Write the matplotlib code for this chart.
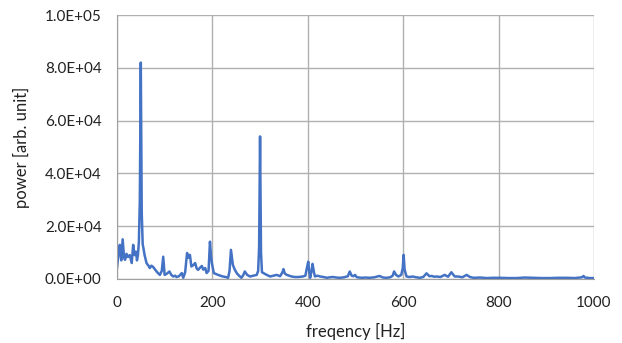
import matplotlib
matplotlib.use("Agg")
import matplotlib.pyplot as plt
from matplotlib.ticker import FuncFormatter

# spectrum
freq = [0, 3, 6, 9, 12, 15, 17, 20, 23, 27, 31, 34, 37, 40, 42, 44, 46, 48, 50, 52, 54,
        55, 58, 62, 66, 69, 72, 76, 80, 83, 87, 90, 94, 97, 100, 105, 110, 114, 118, 122,
        125, 130, 136, 139, 143, 147, 150, 153, 156, 160, 164, 167, 170, 174, 178, 181,
        185, 188, 192, 195, 197, 199, 203, 208, 212, 217, 222, 228, 233, 236, 239, 241,
        243, 247, 251, 256, 261, 265, 268, 273, 279, 286, 293, 296, 298, 300, 302, 304,
        307, 314, 321, 328, 335, 342, 347, 349, 352, 356, 361, 366, 373, 380, 385, 390,
        395, 398, 401, 403, 405, 408, 410, 413, 415, 420, 426, 433, 440, 447, 453, 460,
        468, 476, 484, 488, 492, 496, 499, 503, 513, 521, 530, 540, 550, 558, 565, 573,
        578, 581, 585, 590, 596, 599, 601, 603, 607, 613, 620, 627, 635, 642, 649, 655,
        660, 665, 670, 678, 687, 694, 701, 708, 715, 724, 733, 740, 747, 761, 775, 789,
        803, 820, 838, 855, 872, 890, 908, 925, 943, 960, 975, 978, 981, 992, 1000]
power = [4000, 9000, 12900, 7000, 15000, 8000, 7200, 9500, 8300, 9000, 6000, 12900, 9000,
         10300, 7000, 9000, 14000, 30000, 82000, 25000, 13000,
         12200, 9000, 6000, 5000, 4100, 5000, 4500, 3500, 2800, 2000, 1500, 3000, 8400,
         1500, 2000, 2800, 1500, 900, 1200,
         700, 1000, 2200, 400, 2500, 9800, 8000, 9100, 4700, 5200, 6000, 4000, 3400,
         4200, 4900, 3500,
         4100, 2200, 3000, 14100, 9000, 6000, 2200, 1800, 1500, 1200, 900, 700, 400,
         3000, 11000, 8000,
         5300, 3500, 2200, 1200, 400, 1500, 2800, 1500, 900, 1200, 1500, 3000, 12000,
         54000, 10000, 2500,
         2200, 1500, 900, 1200, 1500, 1000, 2500, 3700, 2000, 1500, 1200, 900, 700, 700,
         800, 900,
         1200, 4000, 6500, 3000, 400, 3000, 5700, 2500, 900, 1200, 900, 700, 400, 600,
         700, 500,
         400, 600, 1000, 2800, 1200, 1000, 1500, 600, 400, 500, 400, 600, 1100, 500,
         400, 600,
         1200, 2800, 1500, 900, 1500, 4000, 9100, 3500, 900, 700, 900, 600, 400, 700,
         2100, 1000,
         1100, 800, 900, 700, 1500, 800, 2500, 900, 900, 600, 1500, 700, 400, 500, 300,
         400,
         400, 300, 300, 500, 400, 300, 300, 400, 400, 300, 600, 1100, 500, 300, 300]

x_ticks = [0, 200, 400, 600, 800, 1000]
y_ticks = [0, 20000, 40000, 60000, 80000, 100000]


def sci(v, pos):
    m, e = f"{v:.1E}".split("E")
    return f"{m}E{e[0]}{int(e[1:]):02d}"


plt.rcParams["font.family"] = ["Lato", "DejaVu Sans"]
fig = plt.figure(figsize=(6.22, 3.43), dpi=100)
ax = fig.add_axes([0.188, 0.187, 0.767, 0.769])

ax.plot(freq, power, color="#4472C4", lw=1.8)

ax.set_xlim(0, 1000)
ax.set_ylim(0, 100000)
ax.set_xticks(x_ticks)
ax.set_yticks(y_ticks)
ax.yaxis.set_major_formatter(FuncFormatter(sci))
ax.grid(True, color="#B0B0B0", lw=1)
ax.set_axisbelow(True)
for s in ["top", "right"]:
    ax.spines[s].set_visible(False)
for s in ["left", "bottom"]:
    ax.spines[s].set_color("#A0A0A0")
ax.tick_params(axis="y", length=0, labelsize=11, colors="#222222", pad=11)
ax.tick_params(axis="x", length=0, labelsize=11, colors="#222222", pad=12)
ax.set_xlabel("freqency [Hz]", fontsize=12, color="#222222", labelpad=10)
ax.set_ylabel("power [arb. unit]", fontsize=12, color="#222222", labelpad=11)

fig.savefig("out.png", dpi=100)
